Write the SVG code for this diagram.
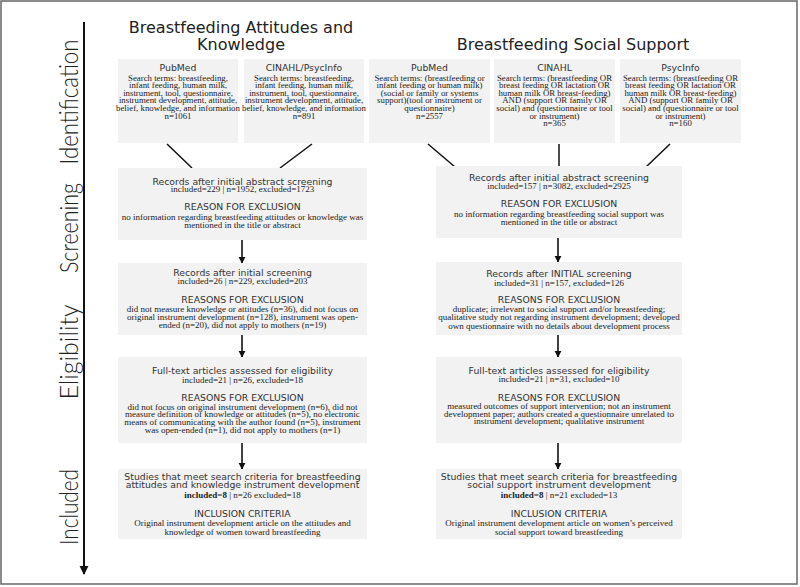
<svg xmlns="http://www.w3.org/2000/svg" width="800" height="587" viewBox="0 0 800 587">
<defs>
<style>
.box{fill:#f2f2f2}
.h{font-family:"DejaVu Sans","Liberation Sans",sans-serif;font-size:9.3px;fill:#333;text-anchor:middle}
.b{font-family:"Liberation Serif",serif;font-size:9px;fill:#222;text-anchor:middle}
.s{font-family:"Liberation Serif",serif;font-size:8.8px;fill:#222;text-anchor:middle}
.t{font-family:"DejaVu Sans","Liberation Sans",sans-serif;font-size:16px;fill:#222;text-anchor:middle}
.ph{font-family:Lato,"Open Sans",sans-serif;font-weight:300;font-size:25px;fill:#222;text-anchor:middle}
.ln{stroke:#111;stroke-width:1.5;fill:none}
.ar{stroke:#111;stroke-width:1.6;fill:none;marker-end:url(#ah)}
</style>
<marker id="ah" viewBox="0 0 10 10" refX="9" refY="5" markerWidth="7" markerHeight="8" markerUnits="userSpaceOnUse" orient="auto">
<path d="M0,0 L10,5 L0,10 z" fill="#111"/>
</marker>
<marker id="ahBig" viewBox="0 0 10 10" refX="9" refY="5" markerWidth="9" markerHeight="10" markerUnits="userSpaceOnUse" orient="auto">
<path d="M0,0 L10,5 L0,10 z" fill="#111"/>
</marker>
</defs>
<rect x="1" y="1" width="796" height="583" fill="#fff" stroke="#666" stroke-width="1.5"/>

<g id="phases">
<line x1="84" y1="22" x2="84" y2="574" stroke="#111" stroke-width="2" marker-end="url(#ahBig)"/>
<text class="ph" transform="translate(77.5,102) rotate(-90)" textLength="125" lengthAdjust="spacingAndGlyphs">Identification</text>
<text class="ph" transform="translate(77.5,228) rotate(-90)" textLength="90" lengthAdjust="spacingAndGlyphs">Screening</text>
<text class="ph" transform="translate(77.5,352) rotate(-90)" textLength="95" lengthAdjust="spacingAndGlyphs">Eligibility</text>
<text class="ph" transform="translate(77.5,507) rotate(-90)" textLength="76" lengthAdjust="spacingAndGlyphs">Included</text>
</g>

<g id="titles">
<text class="t" x="241" y="33">Breastfeeding Attitudes and</text>
<text class="t" x="241" y="50">Knowledge</text>
<text class="t" x="573" y="50">Breastfeeding Social Support</text>
</g>

<g id="connectors">
<line class="ln" x1="167" y1="144" x2="192" y2="168"/>
<line class="ln" x1="312" y1="144" x2="280" y2="168"/>
<line class="ln" x1="428" y1="144" x2="455" y2="167"/>
<line class="ln" x1="559" y1="144" x2="559" y2="167"/>
<line class="ln" x1="670" y1="144" x2="646" y2="167"/>
<line class="ar" x1="242" y1="240" x2="242" y2="263"/>
<line class="ar" x1="242" y1="335" x2="242" y2="357"/>
<line class="ar" x1="242" y1="443" x2="242" y2="469"/>
<line class="ar" x1="558" y1="238" x2="558" y2="262"/>
<line class="ar" x1="558" y1="335" x2="558" y2="357"/>
<line class="ar" x1="558" y1="443" x2="558" y2="469"/>
</g>

<g id="ak-pubmed">
<rect class="box" x="118" y="59" width="120" height="84"/>
<text class="h" x="178" y="70.5">PubMed</text>
<text class="s" x="178" y="80.5">Search terms: breastfeeding,</text>
<text class="s" x="178" y="88.1">infant feeding, human milk,</text>
<text class="s" x="178" y="95.7">instrument, tool, questionnaire,</text>
<text class="s" x="178" y="103.3">instrument development, attitude,</text>
<text class="s" x="178" y="110.9">belief, knowledge, and information</text>
<text class="s" x="178" y="118.5">n=1061</text>
</g>

<g id="ak-cinahl">
<rect class="box" x="244" y="59" width="120" height="84"/>
<text class="h" x="304" y="70.5">CINAHL/PsycInfo</text>
<text class="s" x="304" y="80.5">Search terms: breastfeeding,</text>
<text class="s" x="304" y="88.1">infant feeding, human milk,</text>
<text class="s" x="304" y="95.7">instrument, tool, questionnaire,</text>
<text class="s" x="304" y="103.3">instrument development, attitude,</text>
<text class="s" x="304" y="110.9">belief, knowledge, and information</text>
<text class="s" x="304" y="118.5">n=891</text>
</g>

<g id="ss-pubmed">
<rect class="box" x="369" y="59" width="121" height="84"/>
<text class="h" x="429.5" y="70.5">PubMed</text>
<text class="s" x="429.5" y="80.5">Search terms: (breastfeeding or</text>
<text class="s" x="429.5" y="88.1">infant feeding or human milk)</text>
<text class="s" x="429.5" y="95.7">(social or family or systems</text>
<text class="s" x="429.5" y="103.3">support)(tool or instrument or</text>
<text class="s" x="429.5" y="110.9">questionnaire)</text>
<text class="s" x="429.5" y="118.5">n=2557</text>
</g>

<g id="ss-cinahl">
<rect class="box" x="494" y="59" width="121" height="84"/>
<text class="h" x="554.5" y="70.5">CINAHL</text>
<text class="s" x="554.5" y="80.5">Search terms: (breastfeeding OR</text>
<text class="s" x="554.5" y="88.1">breast feeding OR lactation OR</text>
<text class="s" x="554.5" y="95.7">human milk OR breast-feeding)</text>
<text class="s" x="554.5" y="103.3">AND (support OR family OR</text>
<text class="s" x="554.5" y="110.9">social) and (questionnaire or tool</text>
<text class="s" x="554.5" y="118.5">or instrument)</text>
<text class="s" x="554.5" y="126.1">n=365</text>
</g>

<g id="ss-psycinfo">
<rect class="box" x="620" y="59" width="121" height="84"/>
<text class="h" x="680.5" y="70.5">PsycInfo</text>
<text class="s" x="680.5" y="80.5">Search terms: (breastfeeding OR</text>
<text class="s" x="680.5" y="88.1">breast feeding OR lactation OR</text>
<text class="s" x="680.5" y="95.7">human milk OR breast-feeding)</text>
<text class="s" x="680.5" y="103.3">AND (support OR family OR</text>
<text class="s" x="680.5" y="110.9">social) and (questionnaire or tool</text>
<text class="s" x="680.5" y="118.5">or instrument)</text>
<text class="s" x="680.5" y="126.1">n=160</text>
</g>

<g id="ak-screen1">
<rect class="box" x="118" y="168" width="249" height="72"/>
<text class="h" x="242.5" y="184.5">Records after initial abstract screening</text>
<text class="b" x="242.5" y="192.3">included=229  |  n=1952, excluded=1723</text>
<text class="h" x="242.5" y="209.5">REASON FOR EXCLUSION</text>
<text class="b" x="242.5" y="219.5">no information regarding breastfeeding attitudes or knowledge was</text>
<text class="b" x="242.5" y="227.7">mentioned in the title or abstract</text>
</g>

<g id="ss-screen1">
<rect class="box" x="436" y="166" width="246" height="72"/>
<text class="h" x="559" y="180.5">Records after initial abstract screening</text>
<text class="b" x="559" y="188.7">included=157  |  n=3082, excluded=2925</text>
<text class="h" x="559" y="206.5">REASON FOR EXCLUSION</text>
<text class="b" x="559" y="216.5">no information regarding breastfeeding social support was</text>
<text class="b" x="559" y="224.7">mentioned in the title or abstract</text>
</g>

<g id="ak-screen2">
<rect class="box" x="118" y="263" width="249" height="72"/>
<text class="h" x="242.5" y="275.5">Records after initial screening</text>
<text class="b" x="242.5" y="283.7">included=26  |  n=229, excluded=203</text>
<text class="h" x="242.5" y="302.5">REASONS FOR EXCLUSION</text>
<text class="b" x="242.5" y="311.5">did not measure knowledge or attitudes (n=36), did not focus on</text>
<text class="b" x="242.5" y="319.5">original instrument development (n=128), instrument was open-</text>
<text class="b" x="242.5" y="327.5">ended (n=20), did not apply to mothers (n=19)</text>
</g>

<g id="ss-screen2">
<rect class="box" x="436" y="262" width="246" height="73"/>
<text class="h" x="559" y="276.5">Records after INITIAL screening</text>
<text class="b" x="559" y="285.5">included=31  |  n=157, excluded=126</text>
<text class="h" x="559" y="302.5">REASONS FOR EXCLUSION</text>
<text class="b" x="559" y="311.5">duplicate; irrelevant to social support and/or breastfeeding;</text>
<text class="b" x="559" y="320">qualitative study not regarding instrument development; developed</text>
<text class="b" x="559" y="328.5">own questionnaire with no details about development process</text>
</g>

<g id="ak-elig">
<rect class="box" x="118" y="357" width="249" height="86"/>
<text class="h" x="242.5" y="373.5">Full-text articles assessed for eligibility</text>
<text class="b" x="242.5" y="382.5">included=21  |  n=26, excluded=18</text>
<text class="h" x="242.5" y="400.5">REASONS FOR EXCLUSION</text>
<text class="b" x="242.5" y="409.5">did not focus on original instrument development (n=6), did not</text>
<text class="b" x="242.5" y="417.3">measure definition of knowledge or attitudes (n=5), no electronic</text>
<text class="b" x="242.5" y="425.1">means of communicating with the author found (n=5), instrument</text>
<text class="b" x="242.5" y="432.9">was open-ended (n=1), did not apply to mothers (n=1)</text>
</g>

<g id="ss-elig">
<rect class="box" x="436" y="357" width="246" height="86"/>
<text class="h" x="559" y="373.5">Full-text articles assessed for eligibility</text>
<text class="b" x="559" y="382">included=21  |  n=31, excluded=10</text>
<text class="h" x="559" y="400.5">REASONS FOR EXCLUSION</text>
<text class="b" x="559" y="408.7">measured outcomes of support intervention; not an instrument</text>
<text class="b" x="559" y="416.5">development paper; authors created a questionnaire unrelated to</text>
<text class="b" x="559" y="424.3">instrument development; qualitative instrument</text>
</g>

<g id="ak-included">
<rect class="box" x="118" y="469" width="249" height="70"/>
<text class="h" x="242.5" y="480">Studies that meet search criteria for breastfeeding</text>
<text class="h" x="242.5" y="488.3">attitudes and knowledge instrument development</text>
<text class="b" x="242.5" y="497.8"><tspan font-weight="bold">included=8</tspan>  |  n=26 excluded=18</text>
<text class="h" x="242.5" y="516.5">INCLUSION CRITERIA</text>
<text class="b" x="242.5" y="525.5">Original instrument development article on the attitudes and</text>
<text class="b" x="242.5" y="534.5">knowledge of women toward breastfeeding</text>
</g>

<g id="ss-included">
<rect class="box" x="436" y="469" width="246" height="70"/>
<text class="h" x="559" y="480">Studies that meet search criteria for breastfeeding</text>
<text class="h" x="559" y="488.3">social support instrument development</text>
<text class="b" x="559" y="497.8"><tspan font-weight="bold">included=8</tspan>  |  n=21 excluded=13</text>
<text class="h" x="559" y="516.5">INCLUSION CRITERIA</text>
<text class="b" x="559" y="525.5">Original instrument development article on women’s perceived</text>
<text class="b" x="559" y="534.5">social support toward breastfeeding</text>
</g>
</svg>
